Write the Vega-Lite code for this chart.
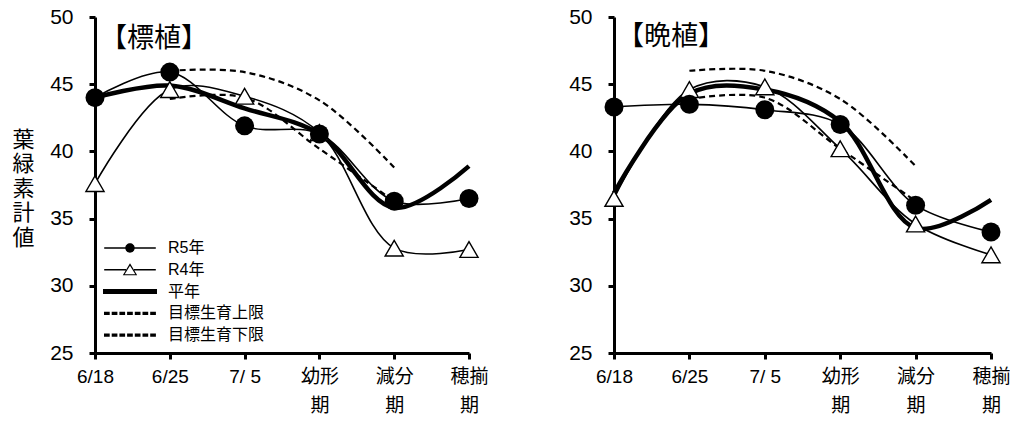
{
  "$schema": "https://vega.github.io/schema/vega-lite/v6.json",
  "background": "white",
  "padding": {"left": 11, "top": 6, "right": 5, "bottom": 5},
  "spacing": 79,
  "config": {
    "view": {"stroke": null},
    "font": "Liberation Sans, Noto Sans CJK JP",
    "axis": {"grid": false, "domainColor": "black", "domainWidth": 3, "tickColor": "black", "tickWidth": 3, "tickSize": 6, "labelColor": "black", "titleColor": "black", "labelFont": "Liberation Sans, Noto Sans CJK JP"}
  },
  "datasets": {
    "d": [
      {"panel": "標植", "series": "R5年", "stage": "6/18", "value": 44.0},
      {"panel": "標植", "series": "R5年", "stage": "6/25", "value": 45.9},
      {"panel": "標植", "series": "R5年", "stage": "7/ 5", "value": 41.9},
      {"panel": "標植", "series": "R5年", "stage": "幼形期", "value": 41.3},
      {"panel": "標植", "series": "R5年", "stage": "減分期", "value": 36.3},
      {"panel": "標植", "series": "R5年", "stage": "穂揃期", "value": 36.5},
      {"panel": "標植", "series": "R4年", "stage": "6/18", "value": 37.6},
      {"panel": "標植", "series": "R4年", "stage": "6/25", "value": 44.6},
      {"panel": "標植", "series": "R4年", "stage": "7/ 5", "value": 44.1},
      {"panel": "標植", "series": "R4年", "stage": "幼形期", "value": 41.4},
      {"panel": "標植", "series": "R4年", "stage": "減分期", "value": 32.8},
      {"panel": "標植", "series": "R4年", "stage": "穂揃期", "value": 32.7},
      {"panel": "標植", "series": "平年", "stage": "6/18", "value": 44.0},
      {"panel": "標植", "series": "平年", "stage": "6/25", "value": 44.9},
      {"panel": "標植", "series": "平年", "stage": "7/ 5", "value": 43.2},
      {"panel": "標植", "series": "平年", "stage": "幼形期", "value": 41.3},
      {"panel": "標植", "series": "平年", "stage": "減分期", "value": 35.8},
      {"panel": "標植", "series": "平年", "stage": "穂揃期", "value": 38.9},
      {"panel": "標植", "series": "目標生育上限", "stage": "6/25", "value": 46.0},
      {"panel": "標植", "series": "目標生育上限", "stage": "7/ 5", "value": 45.9},
      {"panel": "標植", "series": "目標生育上限", "stage": "幼形期", "value": 43.8},
      {"panel": "標植", "series": "目標生育上限", "stage": "減分期", "value": 38.8},
      {"panel": "標植", "series": "目標生育下限", "stage": "6/25", "value": 43.9},
      {"panel": "標植", "series": "目標生育下限", "stage": "7/ 5", "value": 44.0},
      {"panel": "標植", "series": "目標生育下限", "stage": "幼形期", "value": 40.2},
      {"panel": "標植", "series": "目標生育下限", "stage": "減分期", "value": 36.3},
      {"panel": "晩植", "series": "R5年", "stage": "6/18", "value": 43.3},
      {"panel": "晩植", "series": "R5年", "stage": "6/25", "value": 43.5},
      {"panel": "晩植", "series": "R5年", "stage": "7/ 5", "value": 43.1},
      {"panel": "晩植", "series": "R5年", "stage": "幼形期", "value": 42.0},
      {"panel": "晩植", "series": "R5年", "stage": "減分期", "value": 36.0},
      {"panel": "晩植", "series": "R5年", "stage": "穂揃期", "value": 34.0},
      {"panel": "晩植", "series": "R4年", "stage": "6/18", "value": 36.5},
      {"panel": "晩植", "series": "R4年", "stage": "6/25", "value": 44.6},
      {"panel": "晩植", "series": "R4年", "stage": "7/ 5", "value": 44.8},
      {"panel": "晩植", "series": "R4年", "stage": "幼形期", "value": 40.2},
      {"panel": "晩植", "series": "R4年", "stage": "減分期", "value": 34.6},
      {"panel": "晩植", "series": "R4年", "stage": "穂揃期", "value": 32.3},
      {"panel": "晩植", "series": "平年", "stage": "6/18", "value": 36.9},
      {"panel": "晩植", "series": "平年", "stage": "6/25", "value": 44.3},
      {"panel": "晩植", "series": "平年", "stage": "7/ 5", "value": 44.6},
      {"panel": "晩植", "series": "平年", "stage": "幼形期", "value": 42.2},
      {"panel": "晩植", "series": "平年", "stage": "減分期", "value": 34.3},
      {"panel": "晩植", "series": "平年", "stage": "穂揃期", "value": 36.4},
      {"panel": "晩植", "series": "目標生育上限", "stage": "6/25", "value": 46.0},
      {"panel": "晩植", "series": "目標生育上限", "stage": "7/ 5", "value": 46.0},
      {"panel": "晩植", "series": "目標生育上限", "stage": "幼形期", "value": 43.9},
      {"panel": "晩植", "series": "目標生育上限", "stage": "減分期", "value": 38.9},
      {"panel": "晩植", "series": "目標生育下限", "stage": "6/25", "value": 43.9},
      {"panel": "晩植", "series": "目標生育下限", "stage": "7/ 5", "value": 44.0},
      {"panel": "晩植", "series": "目標生育下限", "stage": "幼形期", "value": 40.2},
      {"panel": "晩植", "series": "目標生育下限", "stage": "減分期", "value": 36.3}
    ]
  },
  "hconcat": [
    {
      "width": 374,
      "height": 336,
      "data": {"name": "d"},
      "transform": [{"filter": "datum.panel === '標植'"}],
      "title": {"text": "【標植】", "anchor": "start", "frame": "group", "orient": "top", "fontSize": 27, "fontWeight": "normal", "font": "Noto Sans CJK JP", "color": "black", "dx": 5, "dy": 47, "offset": 0},
      "encoding": {
        "x": {"field": "stage", "type": "ordinal", "scale": {"type": "point", "padding": 0, "domain": ["6/18", "6/25", "7/ 5", "幼形期", "減分期", "穂揃期"]}, "axis": {"title": null, "labelAngle": 0, "labelFontSize": 19, "labelPadding": 8, "labelLineHeight": 29, "labelExpr": "length(datum.value) == 3 ? [substring(datum.value, 0, 2), substring(datum.value, 2)] : datum.value"}},
        "y": {"field": "value", "type": "quantitative", "scale": {"domain": [25, 50], "nice": false, "zero": false}, "axis": {"values": [25, 30, 35, 40, 45, 50], "labelFontSize": 21, "labelPadding": 16, "title": ["葉", "緑", "素", "計", "値"], "titleAngle": 0, "titleFontSize": 22, "titleFont": "Noto Sans CJK JP", "titleFontWeight": "normal", "titleLineHeight": 24.5, "titleAlign": "center", "titleBaseline": "middle", "titleX": -72, "titleY": 122}}
      },
      "layer": [
        {"transform": [{"filter": "datum.series === '目標生育上限' || datum.series === '目標生育下限'"}], "mark": {"type": "line", "interpolate": "catmull-rom", "color": "black", "strokeWidth": 2.2, "strokeDash": [6, 4]}, "encoding": {"detail": {"field": "series"}}},
        {"transform": [{"filter": "datum.series === 'R5年' || datum.series === 'R4年'"}], "mark": {"type": "line", "interpolate": "catmull-rom", "color": "black", "strokeWidth": 1.6}, "encoding": {"detail": {"field": "series"}}},
        {"transform": [{"filter": "datum.series === '平年'"}], "mark": {"type": "line", "interpolate": "catmull-rom", "color": "black", "strokeWidth": 4.5}, "encoding": {}},
        {"transform": [{"filter": "datum.series === 'R4年'"}], "mark": {"type": "point", "shape": "triangle-up", "filled": true, "fill": "white", "stroke": "black", "strokeWidth": 1.4, "size": 330, "opacity": 1}, "encoding": {}},
        {"transform": [{"filter": "datum.series === 'R5年'"}], "mark": {"type": "point", "shape": "circle", "filled": true, "color": "black", "size": 361, "opacity": 1}, "encoding": {}},
        {
          "transform": [{"filter": "false"}],
          "mark": {"type": "point", "filled": true, "color": "black", "size": 400, "strokeWidth": 0, "opacity": 1},
          "encoding": {
            "x": null,
            "y": null,
            "shape": {
              "field": "series", "type": "nominal",
              "scale": {
                "domain": ["R5年", "R4年", "平年", "目標生育上限", "目標生育下限"],
                "range": [
                  "M-2.58,-0.075H-0.4V0.075H-2.58Z M0.4,-0.075H2.58V0.075H0.4Z M-0.47,0A0.47,0.47 0 1,1 0.47,0A0.47,0.47 0 1,1 -0.47,0Z",
                  "M-2.58,-0.075H-0.4V0.075H-2.58Z M0.4,-0.075H2.58V0.075H0.4Z M0,-0.65L0.72,0.55L-0.72,0.55Z M0,-0.4L-0.53,0.45L0.53,0.45Z",
                  "M-2.7,-0.25H2.7V0.25H-2.7Z",
                  "M-2.6,-0.16H-2.03V0.16H-2.6Z M-1.83,-0.16H-1.26V0.16H-1.83Z M-1.06,-0.16H-0.49V0.16H-1.06Z M-0.29,-0.16H0.28V0.16H-0.29Z M0.48,-0.16H1.05V0.16H0.48Z M1.25,-0.16H1.82V0.16H1.25Z M2.02,-0.16H2.59V0.16H2.02Z",
                  "M-2.6,-0.16H-2.03V0.16H-2.6Z M-1.83,-0.16H-1.26V0.16H-1.83Z M-1.06,-0.16H-0.49V0.16H-1.06Z M-0.29,-0.16H0.28V0.16H-0.29Z M0.48,-0.16H1.05V0.16H0.48Z M1.25,-0.16H1.82V0.16H1.25Z M2.02,-0.16H2.59V0.16H2.02Z"
                ]
              },
              "legend": {"title": null, "orient": "none", "legendX": 25, "legendY": 221, "padding": 0, "labelFontSize": 16, "labelFont": "Liberation Sans, Noto Sans CJK JP", "labelColor": "black", "symbolSize": 400, "symbolStrokeWidth": 0, "symbolFillColor": "black", "symbolOpacity": 1, "rowPadding": 3.8, "labelOffset": 28}
            }
          }
        }
      ]
    },
    {
      "width": 377,
      "height": 336,
      "data": {"name": "d"},
      "transform": [{"filter": "datum.panel === '晩植'"}],
      "title": {"text": "【晩植】", "anchor": "start", "frame": "group", "orient": "top", "fontSize": 27, "fontWeight": "normal", "font": "Noto Sans CJK JP", "color": "black", "dx": 3, "dy": 45, "offset": 0},
      "encoding": {
        "x": {"field": "stage", "type": "ordinal", "scale": {"type": "point", "padding": 0, "domain": ["6/18", "6/25", "7/ 5", "幼形期", "減分期", "穂揃期"]}, "axis": {"title": null, "labelAngle": 0, "labelFontSize": 19, "labelPadding": 8, "labelLineHeight": 29, "labelExpr": "length(datum.value) == 3 ? [substring(datum.value, 0, 2), substring(datum.value, 2)] : datum.value"}},
        "y": {"field": "value", "type": "quantitative", "scale": {"domain": [25, 50], "nice": false, "zero": false}, "axis": {"values": [25, 30, 35, 40, 45, 50], "labelFontSize": 21, "labelPadding": 16, "title": null}}
      },
      "layer": [
        {"transform": [{"filter": "datum.series === '目標生育上限' || datum.series === '目標生育下限'"}], "mark": {"type": "line", "interpolate": "catmull-rom", "color": "black", "strokeWidth": 2.2, "strokeDash": [6, 4]}, "encoding": {"detail": {"field": "series"}}},
        {"transform": [{"filter": "datum.series === 'R5年' || datum.series === 'R4年'"}], "mark": {"type": "line", "interpolate": "catmull-rom", "color": "black", "strokeWidth": 1.6}, "encoding": {"detail": {"field": "series"}}},
        {"transform": [{"filter": "datum.series === '平年'"}], "mark": {"type": "line", "interpolate": "catmull-rom", "color": "black", "strokeWidth": 4.5}, "encoding": {}},
        {"transform": [{"filter": "datum.series === 'R4年'"}], "mark": {"type": "point", "shape": "triangle-up", "filled": true, "fill": "white", "stroke": "black", "strokeWidth": 1.4, "size": 330, "opacity": 1}, "encoding": {}},
        {"transform": [{"filter": "datum.series === 'R5年'"}], "mark": {"type": "point", "shape": "circle", "filled": true, "color": "black", "size": 361, "opacity": 1}, "encoding": {}}
      ]
    }
  ]
}
